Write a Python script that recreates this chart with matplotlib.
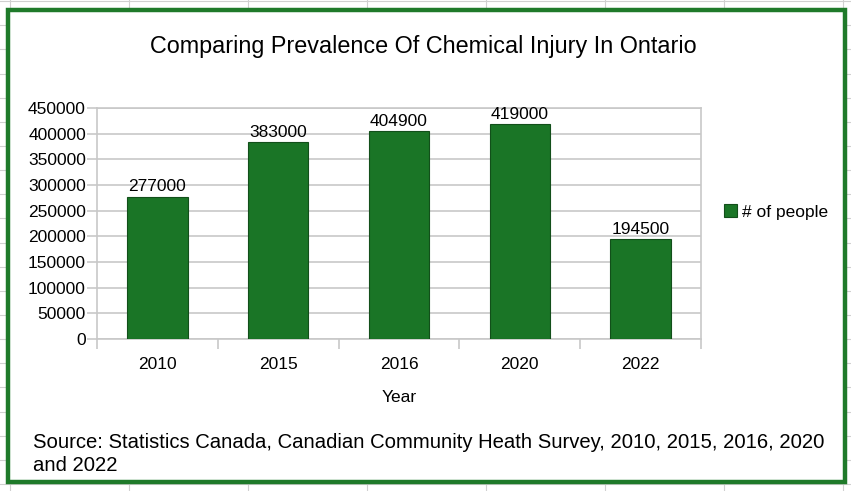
import matplotlib
matplotlib.use("Agg")
import matplotlib.pyplot as plt
from matplotlib.lines import Line2D
from matplotlib.patches import Rectangle

years = ["2010", "2015", "2016", "2020", "2022"]
people = [277000, 383000, 404900, 419000, 194500]
y_ticks = [0, 50000, 100000, 150000, 200000, 250000, 300000, 350000, 400000, 450000]

title = "Comparing Prevalence Of Chemical Injury In Ontario"
source = "Source: Statistics Canada, Canadian Community Heath Survey, 2010, 2015, 2016, 2020\nand 2022"

bar_color = "#1a7526"
edge_color = "#124f1a"
grid_color = "#c8c8c8"
fs = 12.5

plt.rcParams["font.family"] = ["Liberation Sans", "DejaVu Sans"]

W, H = 851, 491
fig = plt.figure(figsize=(W / 100, H / 100), dpi=100)

# spreadsheet cell grid behind the chart
for x in range(10, W, 119):
    fig.add_artist(Line2D([x / W, x / W], [0, 1], color="#d0d0d0", lw=0.8))
y = 484
while y > 0:
    fig.add_artist(Line2D([0, 1], [1 - y / H, 1 - y / H], color="#d0d0d0", lw=0.8))
    y -= 24.14

# chart frame
fig.add_artist(Rectangle((8 / W, 1 - 482 / H), 837 / W, 472 / H, facecolor="white",
                         edgecolor="#1f7a2a", lw=3.2, zorder=2))

ax = fig.add_axes([97 / W, 1 - 339 / H, 604 / W, 231 / H], zorder=3)
x = range(len(years))
bars = ax.bar(x, people, width=0.5, color=bar_color, edgecolor=edge_color, linewidth=0.8,
              label="# of people", zorder=3)
for xi, v in zip(x, people):
    ax.text(xi, v + 4500, str(v), ha="center", va="bottom", fontsize=fs, zorder=4)

ax.set_xlim(-0.5, len(years) - 0.5)
ax.set_ylim(0, 450000)
ax.set_yticks(y_ticks)
ax.set_yticklabels([str(t) for t in y_ticks], fontsize=fs)
ax.set_xticks(list(x))
ax.set_xticklabels(years, fontsize=fs)
ax.tick_params(axis="x", length=0, pad=13)
ax.set_xticks([i - 0.5 for i in range(len(years) + 1)], minor=True)
ax.tick_params(axis="x", which="minor", length=7, color=grid_color, width=1.2)
ax.tick_params(axis="y", length=7, color=grid_color, width=1.2, pad=1)
ax.yaxis.grid(True, color=grid_color, lw=1.2, zorder=0)
ax.set_axisbelow(True)
for s in ax.spines.values():
    s.set_color(grid_color)
    s.set_linewidth(1.2)
ax.set_xlabel("Year", fontsize=fs, labelpad=13)

fig.text(423 / W, 1 - 47 / H, title, ha="center", va="center", fontsize=16.8, zorder=4)
fig.legend(handles=[bars], labels=["# of people"], loc="center left",
           bbox_to_anchor=(708 / W, 1 - 212 / H), frameon=False, fontsize=fs,
           handlelength=0.75, handleheight=0.75, handletextpad=0.3)
fig.text(33 / W, 1 - 454 / H, source, ha="left", va="center", fontsize=14.6,
         linespacing=1.3, zorder=4)

fig.savefig("out.png", dpi=100)
